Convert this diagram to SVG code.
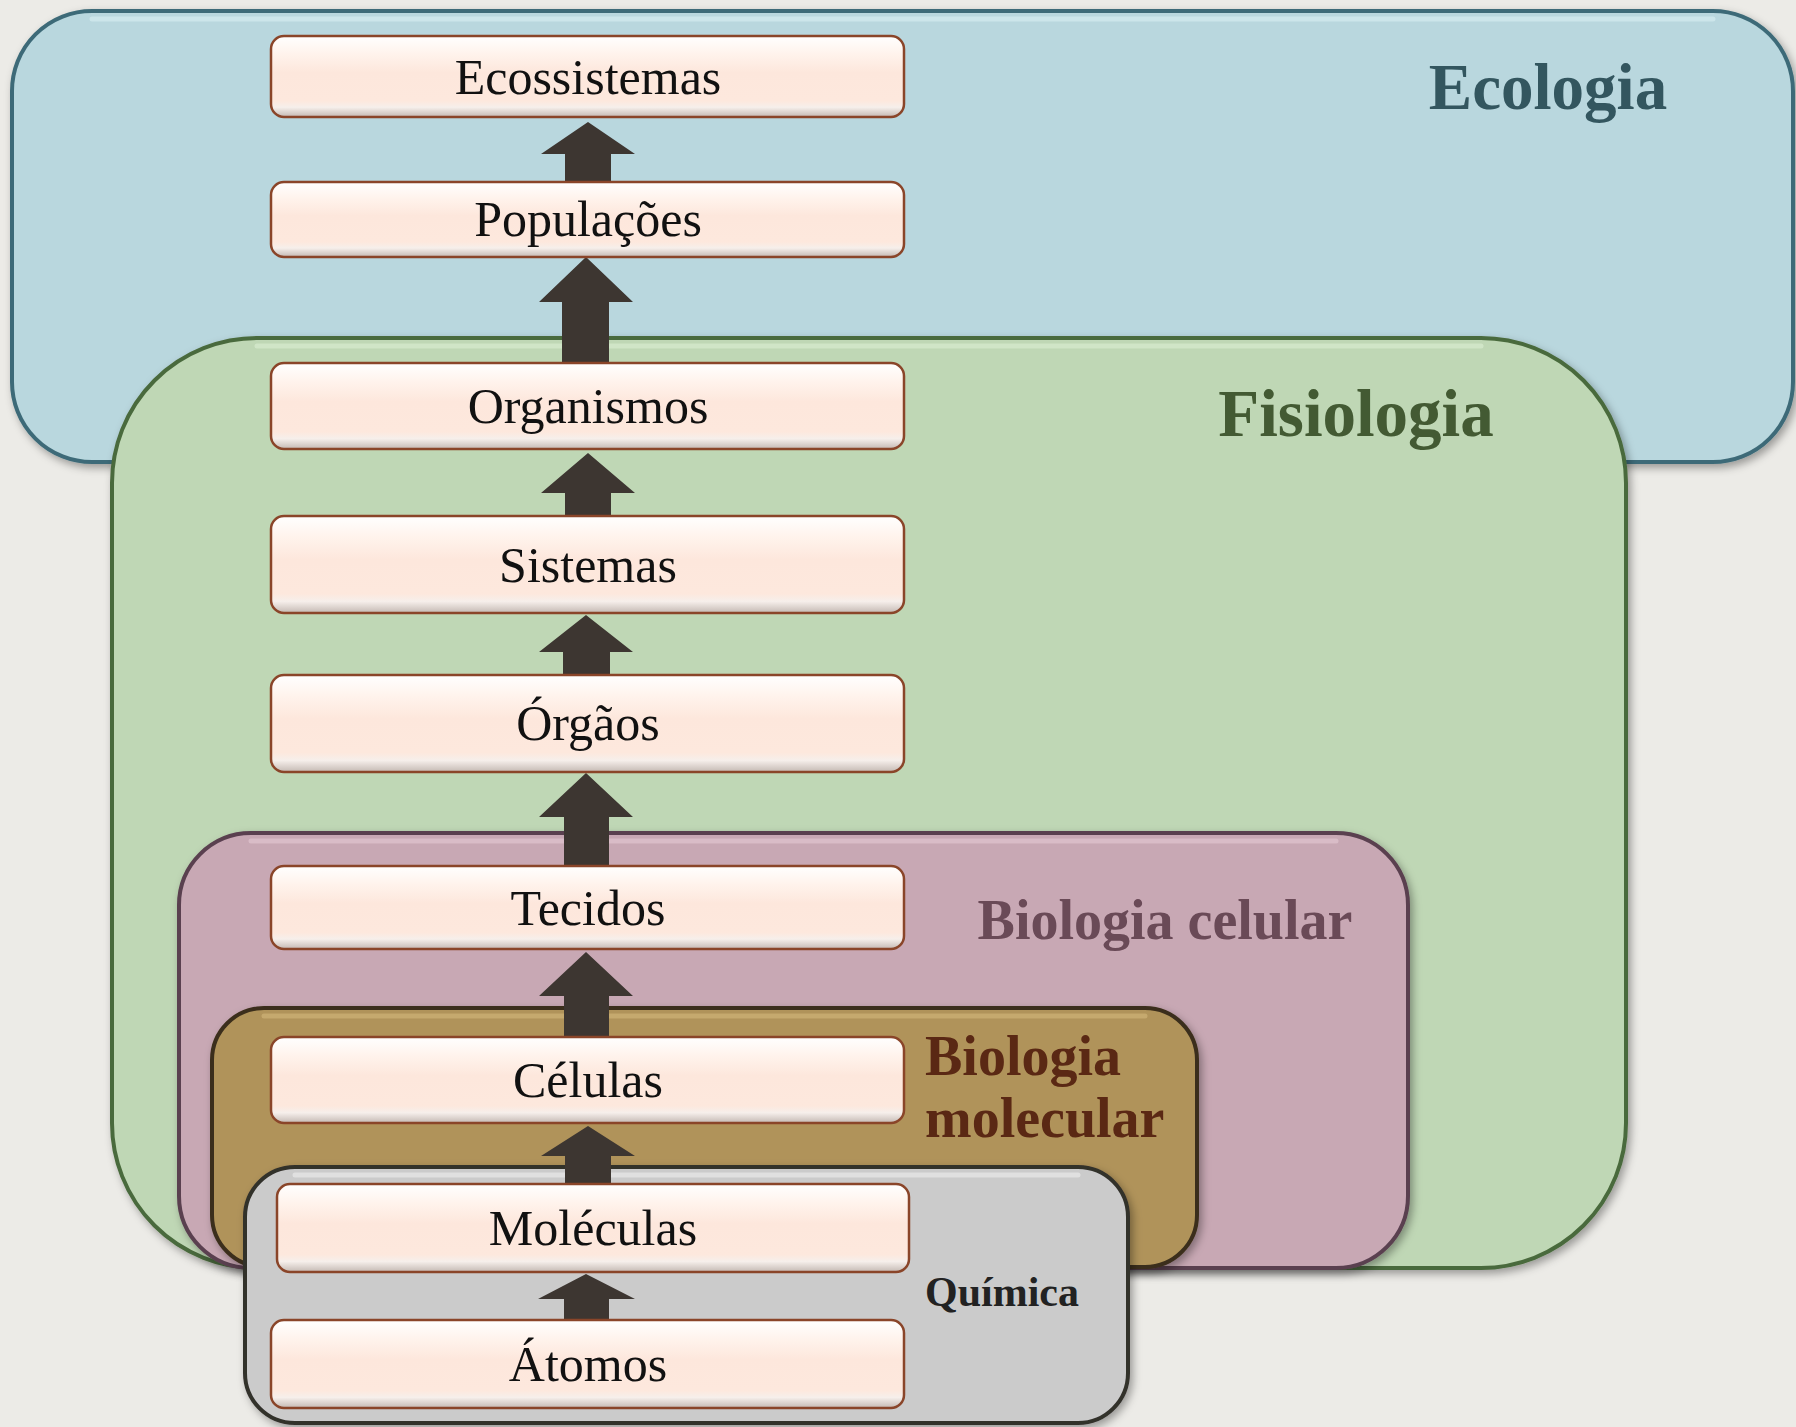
<svg xmlns="http://www.w3.org/2000/svg" width="1796" height="1427" viewBox="0 0 1796 1427">
<defs>
<filter id="sh" x="-5%" y="-5%" width="112%" height="115%">
<feDropShadow dx="3" dy="4" stdDeviation="4" flood-color="#000" flood-opacity="0.35"/>
</filter>
<linearGradient id="nodeGrad" x1="0" y1="0" x2="0" y2="1">
<stop offset="0" stop-color="#ffffff"/>
<stop offset="0.22" stop-color="#fff3ec"/>
<stop offset="0.45" stop-color="#fde7dc"/>
<stop offset="0.8" stop-color="#fde8dd"/>
<stop offset="0.88" stop-color="#f6efeb"/>
<stop offset="1" stop-color="#c4b9b3"/>
</linearGradient>
<style>
.cont{stroke-width:4;filter:url(#sh)}
.hl{stroke-width:5;fill:none;stroke-linecap:round;opacity:0.6}
.node rect{fill:url(#nodeGrad);stroke:#8a4529;stroke-width:2.5}
.node text{font-family:"Liberation Serif",serif;font-size:50px;fill:#111;text-anchor:middle}
.lbl{font-family:"Liberation Serif",serif;font-weight:bold}
.arrow{fill:#3d3631}
</style>
</defs>
<rect x="0" y="0" width="1796" height="1427" fill="#ecebe7"/>

<g id="ecologia">
<rect class="cont" x="12" y="11" width="1781" height="451" rx="80" fill="#b9d7de" stroke="#3e6b78"/>
<path class="hl" d="M 92 19 H 1713" stroke="#d9eef2"/>
<text class="lbl" x="1548" y="109" font-size="65" fill="#33565f" text-anchor="middle">Ecologia</text>
</g>

<g id="fisiologia">
<rect class="cont" x="112" y="338" width="1514" height="930" rx="145" fill="#bfd7b5" stroke="#4a6a3c"/>
<path class="hl" d="M 257 346 H 1481" stroke="#dcefd3"/>
<text class="lbl" x="1356" y="436" font-size="67" fill="#435a33" text-anchor="middle">Fisiologia</text>
</g>

<g id="biologia-celular">
<rect class="cont" x="179" y="833" width="1229" height="435" rx="72" fill="#c8a8b4" stroke="#5a4050"/>
<path class="hl" d="M 251 841 H 1336" stroke="#e4c9d3"/>
<text class="lbl" x="1165" y="939" font-size="56" fill="#6a4a57" text-anchor="middle">Biologia celular</text>
</g>

<g id="biologia-molecular">
<rect class="cont" x="212" y="1008" width="985" height="259" rx="52" fill="#b0935a" stroke="#3b2e1b"/>
<path class="hl" d="M 264 1016 H 1145" stroke="#d3b77c"/>
<text class="lbl" x="925" y="1075" font-size="56" fill="#5a2814">Biologia</text>
<text class="lbl" x="925" y="1137" font-size="56" fill="#5a2814">molecular</text>
</g>

<g id="quimica">
<rect class="cont" x="245" y="1167" width="883" height="256" rx="50" fill="#cbcbcb" stroke="#33302c"/>
<path class="hl" d="M 295 1175 H 1078" stroke="#eeeeee"/>
<text class="lbl" x="1002" y="1306" font-size="42" fill="#222" text-anchor="middle">Química</text>
</g>

<g id="connectors">
<polygon class="arrow" points="588,122 635,154 611,154 611,184 565,184 565,154 541,154"/>
<polygon class="arrow" points="586,257 633,302 609,302 609,365 562,365 562,302 539,302"/>
<polygon class="arrow" points="588,453 635,493 611,493 611,518 565,518 565,493 541,493"/>
<polygon class="arrow" points="586,615 633,652 610,652 610,677 563,677 563,652 539,652"/>
<polygon class="arrow" points="586,773 633,817 609,817 609,868 564,868 564,817 539,817"/>
<polygon class="arrow" points="586,952 633,996 609,996 609,1039 564,1039 564,996 539,996"/>
<polygon class="arrow" points="588,1126 635,1156 611,1156 611,1186 565,1186 565,1156 541,1156"/>
<polygon class="arrow" points="586,1274 635,1299 609,1299 609,1322 564,1322 564,1299 538,1299"/>
</g>

<g id="node-ecossistemas" class="node"><rect x="271" y="36" width="633" height="81" rx="13"/><text x="588" y="94">Ecossistemas</text></g>
<g id="node-populacoes" class="node"><rect x="271" y="182" width="633" height="75" rx="13"/><text x="588" y="236">Populações</text></g>
<g id="node-organismos" class="node"><rect x="271" y="363" width="633" height="86" rx="13"/><text x="588" y="423">Organismos</text></g>
<g id="node-sistemas" class="node"><rect x="271" y="516" width="633" height="97" rx="13"/><text x="588" y="582">Sistemas</text></g>
<g id="node-orgaos" class="node"><rect x="271" y="675" width="633" height="97" rx="13"/><text x="588" y="740">Órgãos</text></g>
<g id="node-tecidos" class="node"><rect x="271" y="866" width="633" height="83" rx="13"/><text x="588" y="925">Tecidos</text></g>
<g id="node-celulas" class="node"><rect x="271" y="1037" width="633" height="86" rx="13"/><text x="588" y="1097">Células</text></g>
<g id="node-moleculas" class="node"><rect x="277" y="1184" width="632" height="88" rx="13"/><text x="593" y="1245">Moléculas</text></g>
<g id="node-atomos" class="node"><rect x="271" y="1320" width="633" height="88" rx="13"/><text x="588" y="1381">Átomos</text></g>
</svg>
